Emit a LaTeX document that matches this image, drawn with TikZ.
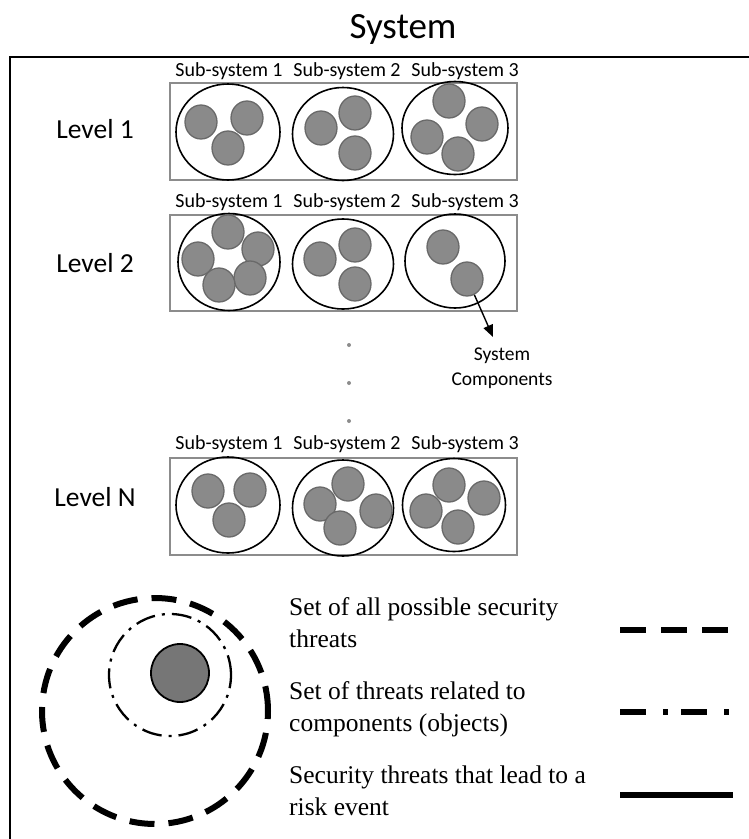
\documentclass[tikz,border=0pt]{standalone}
\usepackage{fontspec}
\setmainfont{Carlito}
\newfontfamily\legendfont{Liberation Serif}
\usetikzlibrary{shapes.geometric,arrows.meta}

\definecolor{boxgray}{RGB}{140,140,140}
\definecolor{compfill}{RGB}{138,138,138}
\definecolor{compline}{RGB}{105,105,105}
\definecolor{corefill}{RGB}{118,118,118}

\tikzset{
  levelbox/.style={draw=boxgray, line width=2.6pt},
  subsys/.style={ellipse, draw=black, line width=1.6pt, inner sep=0pt},
  comp/.style={ellipse, draw=compline, fill=compfill, line width=1.3pt,
               minimum width=32pt, minimum height=34pt, inner sep=0pt},
  sslabel/.style={font=\fontsize{20}{22}\selectfont, inner sep=0pt},
  levellabel/.style={font=\fontsize{27.5}{30}\selectfont, inner sep=0pt},
  legendtext/.style={font=\legendfont\fontsize{25.5}{32}\selectfont, align=left,
                     anchor=north west, inner sep=0pt},
  legendline/.style={line width=5.5pt},
  vdot/.style={circle, fill=boxgray, minimum size=4pt, inner sep=0pt}
}

\begin{document}
\begin{tikzpicture}[x=1pt, y=-1pt]
  \useasboundingbox (0,0) rectangle (749,839);
  \clip (0,0) rectangle (749,839);

  % title and outer frame
  \node[font=\fontsize{37}{40}\selectfont, inner sep=0pt] (title) at (403,29) {System};
  \draw[line width=2.8pt] (10,860) -- (10,57) -- (770,57);

  % ---------- Level 1 ----------
  \node[levellabel] (lv1) at (95,129) {Level 1};
  \draw[levelbox] (170,83) rectangle (517,180);
  \node[sslabel] (l1s1t) at (229,71) {Sub-system 1};
  \node[sslabel] (l1s2t) at (347,71) {Sub-system 2};
  \node[sslabel] (l1s3t) at (465,71) {Sub-system 3};
  \node[subsys, minimum width=104pt, minimum height=96pt] (l1s1) at (228,132) {};
  \node[subsys, minimum width=101pt, minimum height=93pt] (l1s2) at (343,134) {};
  \node[subsys, minimum width=106pt, minimum height=93pt] (l1s3) at (455,128) {};
  \node[comp] (l1c1) at (201,122) {};
  \node[comp] (l1c2) at (247,118) {};
  \node[comp] (l1c3) at (228,148) {};
  \node[comp] (l1c4) at (321,128) {};
  \node[comp] (l1c5) at (355,113) {};
  \node[comp] (l1c6) at (355,153) {};
  \node[comp] (l1c7) at (449,101) {};
  \node[comp] (l1c8) at (482,124) {};
  \node[comp] (l1c9) at (427,137) {};
  \node[comp] (l1c10) at (458,154) {};

  % ---------- Level 2 ----------
  \node[levellabel] (lv2) at (95,263) {Level 2};
  \draw[levelbox] (170,215) rectangle (517,311);
  \node[sslabel] (l2s1t) at (229,202) {Sub-system 1};
  \node[sslabel] (l2s2t) at (347,202) {Sub-system 2};
  \node[sslabel] (l2s3t) at (465,202) {Sub-system 3};
  \node[subsys, minimum width=102pt, minimum height=97pt] (l2s1) at (229,262) {};
  \node[subsys, minimum width=101pt, minimum height=90pt] (l2s2) at (343,264) {};
  \node[subsys, minimum width=100pt, minimum height=94pt] (l2s3) at (455,261) {};
  \node[comp] (l2c1) at (228,232) {};
  \node[comp] (l2c2) at (258,249) {};
  \node[comp] (l2c3) at (198,259) {};
  \node[comp] (l2c4) at (250,278) {};
  \node[comp] (l2c5) at (219,285) {};
  \node[comp] (l2c6) at (320,259) {};
  \node[comp] (l2c7) at (355,245) {};
  \node[comp] (l2c8) at (355,284) {};
  \node[comp] (l2c9) at (443,247) {};
  \node[comp] (l2c10) at (467,279) {};

  % arrow to the component label
  \node[font=\fontsize{19.5}{25}\selectfont, align=center, inner sep=0pt] (complabel) at (502,368) {System\\Components};
  \coordinate (arrowtip) at (493,337);
  \draw[line width=1.4pt, -{Triangle[length=12pt, width=10pt]}] (l2c10.-65) -- (arrowtip);

  % vertical ellipsis between levels
  \node[vdot] (d1) at (349,345) {};
  \node[vdot] (d2) at (349,383) {};
  \node[vdot] (d3) at (349,421) {};

  % ---------- Level N ----------
  \node[levellabel] (lvN) at (95,497) {Level N};
  \draw[levelbox] (170,458) rectangle (517,555);
  \node[sslabel] (lNs1t) at (229,444) {Sub-system 1};
  \node[sslabel] (lNs2t) at (347,444) {Sub-system 2};
  \node[sslabel] (lNs3t) at (465,444) {Sub-system 3};
  \node[subsys, minimum width=104pt, minimum height=96pt] (lNs1) at (228,505) {};
  \node[subsys, minimum width=101pt, minimum height=96pt] (lNs2) at (343,508) {};
  \node[subsys, minimum width=103pt, minimum height=93pt] (lNs3) at (454,505) {};
  \node[comp] (lNc1) at (208,491) {};
  \node[comp] (lNc2) at (250,490) {};
  \node[comp] (lNc3) at (229,520) {};
  \node[comp] (lNc4) at (348,484) {};
  \node[comp] (lNc5) at (320,504) {};
  \node[comp] (lNc6) at (376,511) {};
  \node[comp] (lNc7) at (340,528) {};
  \node[comp] (lNc8) at (449,485) {};
  \node[comp] (lNc9) at (484,498) {};
  \node[comp] (lNc10) at (426,511) {};
  \node[comp] (lNc11) at (458,527) {};

  % ---------- threat sets ----------
  \node[circle, draw=black, line width=6pt, dash pattern=on 25pt off 14pt,
        minimum size=226pt, inner sep=0pt] (allthreats) at (155,711) {};
  \node[circle, draw=black, line width=2.3pt,
        dash pattern=on 20pt off 7pt on 3pt off 7pt,
        minimum size=122pt, inner sep=0pt] (compthreats) at (170,675) {};
  \node[circle, draw=black, fill=corefill, line width=1.8pt,
        minimum size=58pt, inner sep=0pt] (riskthreats) at (180,673) {};

  % legend
  \node[legendtext] (leg1) at (289,597) {Set of all possible security\\threats};
  \node[legendtext] (leg2) at (289,681) {Set of threats related to\\components (objects)};
  \node[legendtext] (leg3) at (289,766) {Security threats that lead to a\\risk event};
  \coordinate (k1a) at (620,630); \coordinate (k1b) at (730,630);
  \coordinate (k2a) at (620,712); \coordinate (k2b) at (732,712);
  \coordinate (k3a) at (620,795); \coordinate (k3b) at (733,795);
  \draw[legendline, dash pattern=on 26pt off 15pt] (k1a) -- (k1b);
  \draw[legendline, dash pattern=on 26pt off 17pt on 5pt off 13pt] (k2a) -- (k2b);
  \draw[legendline] (k3a) -- (k3b);
\end{tikzpicture}
\end{document}
